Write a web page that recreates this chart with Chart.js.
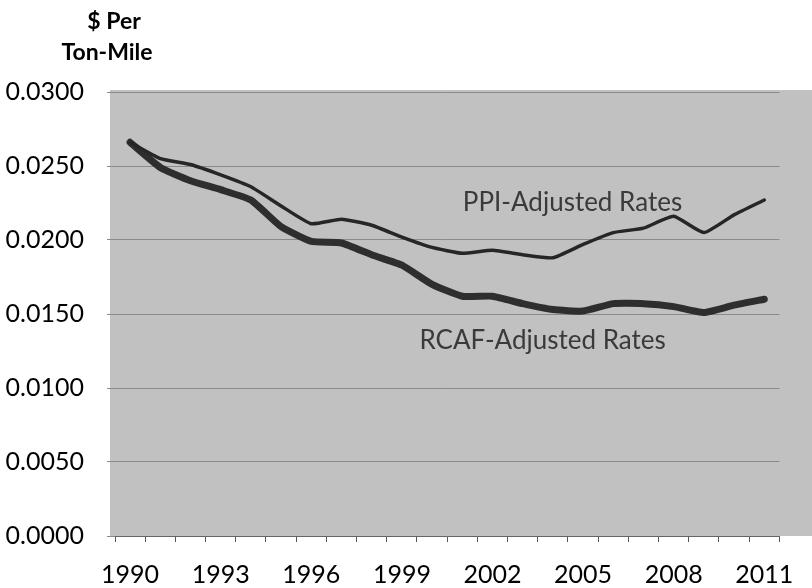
<!DOCTYPE html>
<html>
<head>
<meta charset="utf-8">
<script src="https://cdn.jsdelivr.net/npm/chart.js@4.4.0/dist/chart.umd.min.js"></script>
<style>
  html, body { margin: 0; padding: 0; background: #fff; }
  #wrap { width: 812px; height: 588px; position: relative; }
</style>
</head>
<body>
<div id="wrap"><canvas id="rateChart" width="812" height="588"></canvas></div>
<script>
// Data
const years = ['1990','1991','1992','1993','1994','1995','1996','1997','1998','1999','2000',
               '2001','2002','2003','2004','2005','2006','2007','2008','2009','2010','2011'];
const ppiRates = [0.0266, 0.0255, 0.0251, 0.0244, 0.0236, 0.0223, 0.0211, 0.0214, 0.0210, 0.0202, 0.0195,
                  0.0191, 0.0193, 0.0190, 0.0188, 0.0197, 0.0205, 0.0208, 0.0216, 0.0205, 0.0217, 0.0227];
const rcafRates = [0.0266, 0.0249, 0.0240, 0.0234, 0.0227, 0.0209, 0.0199, 0.0198, 0.0190, 0.0183, 0.0170,
                   0.0162, 0.0162, 0.0157, 0.0153, 0.0152, 0.0157, 0.0157, 0.0155, 0.0151, 0.0156, 0.0160];
const yTicks = [0, 0.005, 0.01, 0.015, 0.02, 0.025, 0.03];
const axisTitle = ['$ Per', 'Ton-Mile'];
const seriesLabels = ['PPI-Adjusted Rates', 'RCAF-Adjusted Rates'];

const FONT = 'Lato, "Open Sans", sans-serif';
const ctx = document.getElementById('rateChart').getContext('2d');

// gray panel behind the plot, Excel-style
const backdrop = {
    id: 'backdrop',
    beforeDraw(chart) {
        const { ctx, chartArea } = chart;
        ctx.save();
        ctx.fillStyle = '#c1c1c1';
        ctx.fillRect(chartArea.left - 5, chartArea.top - 2, chart.width - chartArea.left + 5, chartArea.bottom - chartArea.top + 2);
        ctx.restore();
    }
};

// axis title and the in-plot series labels
const labelsPlugin = {
    id: 'labelsPlugin',
    afterDraw(chart) {
        const { ctx } = chart;
        const x = chart.scales.x, y = chart.scales.y;
        ctx.save();
        ctx.fillStyle = '#000';
        ctx.font = 'bold 23px ' + FONT;
        ctx.textAlign = 'center';
        ctx.textBaseline = 'middle';
        ctx.fillText(axisTitle[0], 114, 22);
        ctx.fillText(axisTitle[1], 107, 53);

        ctx.fillStyle = '#3a3a3a';
        ctx.font = '26px ' + FONT;
        ctx.fillText(seriesLabels[0], x.getPixelForValue(14.65), y.getPixelForValue(0.0225));
        ctx.fillText(seriesLabels[1], x.getPixelForValue(13.66), y.getPixelForValue(0.0132));
        ctx.restore();
    }
};

new Chart(ctx, {
    type: 'line',
    data: {
        labels: years,
        datasets: [
            {
                label: seriesLabels[0],
                data: ppiRates,
                borderColor: '#262626',
                borderWidth: 3.5,
                pointRadius: 0,
                tension: 0.15,
                borderJoinStyle: 'round',
                borderCapStyle: 'round'
            },
            {
                label: seriesLabels[1],
                data: rcafRates,
                borderColor: '#2e2e2e',
                borderWidth: 7,
                pointRadius: 0,
                tension: 0.15,
                borderJoinStyle: 'round',
                borderCapStyle: 'round'
            }
        ]
    },
    options: {
        responsive: false,
        animation: false,
        layout: { padding: { top: 92, right: 32, left: 0, bottom: 0 } },
        plugins: {
            legend: { display: false },
            tooltip: { enabled: false }
        },
        scales: {
            x: {
                offset: true,
                grid: {
                    offset: true,
                    drawOnChartArea: false,
                    drawTicks: true,
                    tickLength: 6,
                    color: '#555'
                },
                border: { color: '#666', width: 1 },
                ticks: {
                    autoSkip: false,
                    maxRotation: 0,
                    padding: 18,
                    color: '#000',
                    font: { family: FONT, size: 25 },
                    callback: (v, i) => (i % 3 === 0 ? years[i] : '')
                },
                afterFit: (scale) => { scale.height = 52; }
            },
            y: {
                min: 0,
                max: 0.03,
                afterBuildTicks: (scale) => { scale.ticks = yTicks.map(v => ({ value: v })); },
                grid: {
                    color: '#8a8a8a',
                    lineWidth: 1,
                    tickLength: 8
                },
                border: { display: false },
                ticks: {
                    padding: 23,
                    color: '#000',
                    font: { family: FONT, size: 25 },
                    callback: (v) => v.toFixed(4)
                },
                afterFit: (scale) => { scale.width = 115; }
            }
        }
    },
    plugins: [backdrop, labelsPlugin]
});
</script>
</body>
</html>
